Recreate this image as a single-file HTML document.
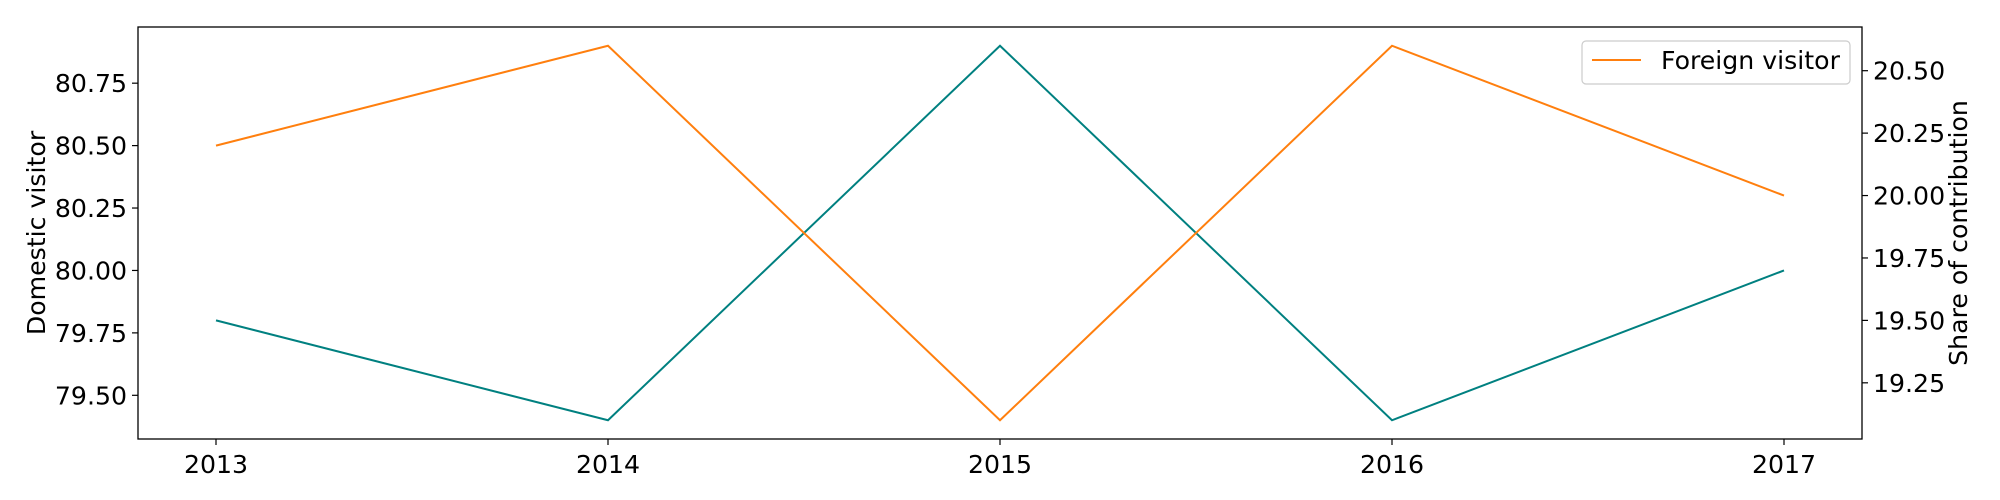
<!DOCTYPE html>
<html><head><meta charset="utf-8"><style>
html,body{margin:0;padding:0;background:#fff;}
svg{display:block;font-family:"DejaVu Sans","Liberation Sans",sans-serif;}
</style></head><body>
<svg id="chart" width="2000" height="500"></svg>
<script>
const years = ["2013","2014","2015","2016","2017"];
const domestic = [79.80, 79.40, 80.90, 79.40, 80.00];
const foreign = [20.20, 20.60, 19.10, 20.60, 20.00];
const leftTicks = [79.50, 79.75, 80.00, 80.25, 80.50, 80.75];
const rightTicks = [19.25, 19.50, 19.75, 20.00, 20.25, 20.50];

const NS = "http://www.w3.org/2000/svg";
const svg = document.getElementById('chart');
const L = 138, T = 27, R = 1862, B = 439;
const lMin = 79.325, lMax = 80.975, rMin = 19.025, rMax = 20.675;
const FS = 25.2;
const xs = i => 216 + i * (1784 - 216) / (years.length - 1);
const yl = v => B - (v - lMin) / (lMax - lMin) * (B - T);
const yr = v => B - (v - rMin) / (rMax - rMin) * (B - T);
function mk(tag, attrs, text){
  const e = document.createElementNS(NS, tag);
  for (const k in attrs) e.setAttribute(k, attrs[k]);
  if (text !== undefined) e.textContent = text;
  svg.appendChild(e);
  return e;
}
let e;
e = mk('rect', {x:L, y:T, width:R-L, height:B-T, fill:'none', stroke:'#000', 'stroke-width':1.3});



years.forEach((y, i) => {
  e = mk('line', {x1:xs(i), x2:xs(i), y1:B, y2:B+6, stroke:'#000', 'stroke-width':1.2});
  
  
  e = mk('text', {x:xs(i), y:B+34, 'font-size':FS, 'text-anchor':'middle'}, y);
  
  
});
leftTicks.forEach(v => {
  e = mk('line', {x1:L-6, x2:L, y1:yl(v), y2:yl(v), stroke:'#000', 'stroke-width':1.2});
  
  
  e = mk('text', {x:L-11, y:yl(v)+9, 'font-size':FS, 'text-anchor':'end'}, v.toFixed(2));
  
  
});
rightTicks.forEach(v => {
  e = mk('line', {x1:R, x2:R+6, y1:yr(v), y2:yr(v), stroke:'#000', 'stroke-width':1.2});
  
  
  e = mk('text', {x:R+11, y:yr(v)+9, 'font-size':FS, 'text-anchor':'start'}, v.toFixed(2));
  
  
});
e = mk('text', {x:0, y:0, 'font-size':FS, 'text-anchor':'middle', transform:'translate(45,233) rotate(-90)'}, 'Domestic visitor');


e = mk('text', {x:0, y:0, 'font-size':FS, 'text-anchor':'middle', transform:'translate(1967,233) rotate(-90)'}, 'Share of contribution');



e = mk('polyline', {points: domestic.map((v,i)=>xs(i)+','+yl(v)).join(' '), fill:'none', stroke:'#008080', 'stroke-width':2});


e = mk('polyline', {points: foreign.map((v,i)=>xs(i)+','+yr(v)).join(' '), fill:'none', stroke:'#ff7f0e', 'stroke-width':2});



e = mk('rect', {x:1582, y:41, width:268, height:43, rx:4, fill:'#fff', stroke:'#ccc', 'stroke-width':1.2});


e = mk('line', {x1:1592, x2:1641, y1:60, y2:60, stroke:'#ff7f0e', 'stroke-width':2});


e = mk('text', {x:1661, y:69, 'font-size':FS}, 'Foreign visitor');


</script>
</body></html>
